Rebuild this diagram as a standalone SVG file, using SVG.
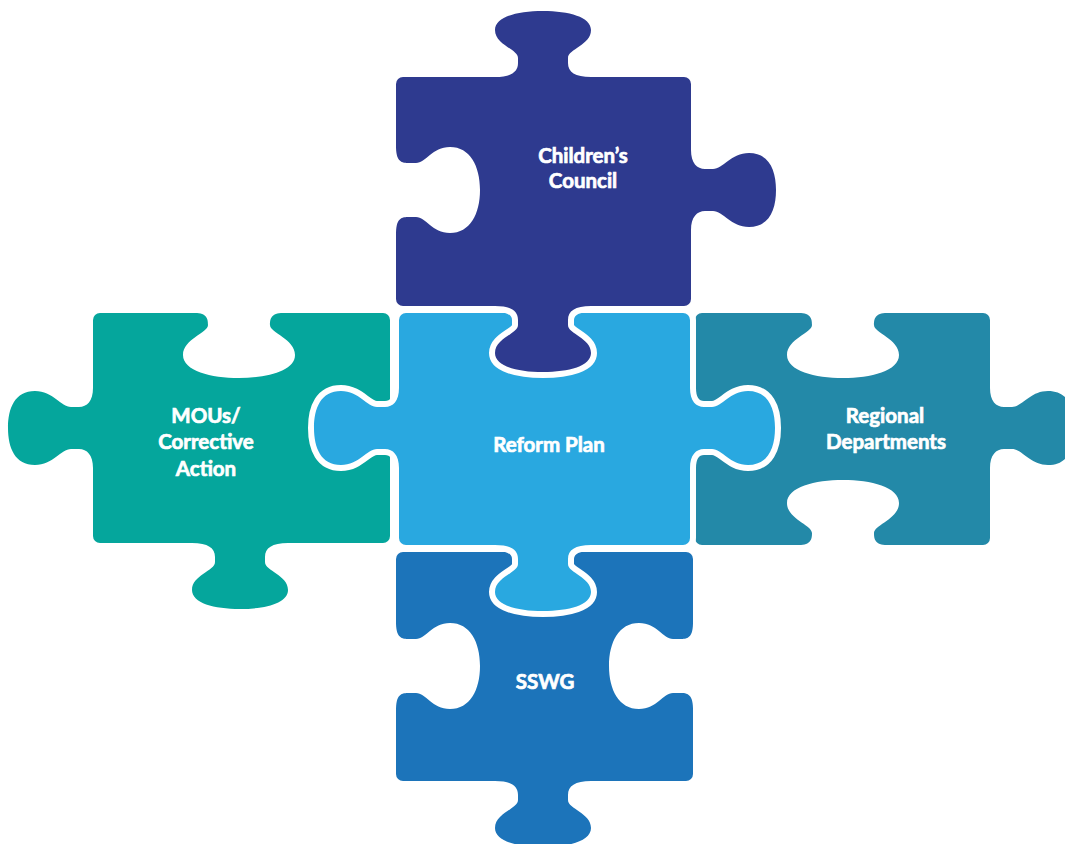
<svg xmlns="http://www.w3.org/2000/svg" xmlns:xlink="http://www.w3.org/1999/xlink" width="1065" height="844" viewBox="0 0 1065 844">
<style>
.label{font-family:Lato,"Liberation Sans",Arial,sans-serif;font-weight:700;font-size:20.5px;fill:#ffffff;stroke:#ffffff;stroke-width:0.7;text-anchor:middle}
.outline{fill:#ffffff;stroke:#ffffff;stroke-width:12;stroke-linejoin:round}
.hole{fill:#ffffff}
</style>
<defs>
<path id="tabA" d="M -48 3 L -48 0 C -32 0 -25 -5 -25 -14 L -25 -19 C -25 -28 -48 -32 -48 -47 C -48 -60 -26 -66 0 -66 C 26 -66 48 -60 48 -47 C 48 -32 25 -28 25 -19 L 25 -14 C 25 -5 32 0 48 0 L 48 3 Z"/>
<path id="tabB" d="M -40 3 L -40 0 C -27 0 -21 -6 -21 -14 L -21 -22 C -21 -32 -37 -40 -37 -58 C -37 -78 -20 -85 0 -85 C 20 -85 37 -78 37 -58 C 37 -40 21 -32 21 -22 L 21 -14 C 21 -6 27 0 40 0 L 40 3 Z"/>
<path id="blankA" d="M -44 4 L -44 0 C -32 0 -31 -6 -31 -12 C -31 -20 -56 -26 -56 -42 C -56 -58 -28 -65 0 -65 C 28 -65 56 -58 56 -42 C 56 -26 31 -20 31 -12 C 31 -6 32 0 44 0 L 44 4 Z"/>
<path id="blankB" d="M -44 4 L -44 0 C -30 0 -27 -4 -27 -12 L -27 -20 C -27 -30 -43 -36 -43 -54 C -43 -74 -24 -84 0 -84 C 24 -84 43 -74 43 -54 C 43 -36 27 -30 27 -20 L 27 -12 C 27 -4 30 0 44 0 L 44 4 Z"/>
<g id="reform-shape">
<rect x="399" y="313" width="291" height="232" rx="7"/>
<use href="#tabB" xlink:href="#tabB" transform="translate(399 428) rotate(-90)"/>
<use href="#tabB" xlink:href="#tabB" transform="translate(690 428) rotate(90)"/>
<use href="#tabA" xlink:href="#tabA" transform="translate(543 545) rotate(180)"/>
</g>
<g id="children-shape">
<rect x="396" y="77" width="295" height="229" rx="7"/>
<use href="#tabA" xlink:href="#tabA" transform="translate(543 77)"/>
<use href="#tabB" xlink:href="#tabB" transform="translate(691 190) rotate(90)"/>
<use href="#tabA" xlink:href="#tabA" transform="translate(543 306) rotate(180)"/>
</g>
</defs>

<g id="mous" fill="#05A69C">
<rect x="93" y="313" width="297" height="230" rx="7"/>
<use href="#tabB" xlink:href="#tabB" transform="translate(93 428) rotate(-90)"/>
<use href="#tabA" xlink:href="#tabA" transform="translate(240 543) rotate(180)"/>
<use href="#blankA" xlink:href="#blankA" class="hole" transform="translate(239 313) rotate(180)"/>
<text class="label" x="206" y="423">MOUs/</text>
<text class="label" x="206" y="449">Corrective</text>
<text class="label" x="206" y="476">Action</text>
</g>

<g id="regional-departments" fill="#2389A8">
<rect x="695" y="313" width="295" height="232" rx="7"/>
<use href="#tabB" xlink:href="#tabB" transform="translate(990 428) rotate(90)"/>
<use href="#blankA" xlink:href="#blankA" class="hole" transform="translate(843 313) rotate(180)"/>
<use href="#blankA" xlink:href="#blankA" class="hole" transform="translate(843 545)"/>
<text class="label" x="885" y="423">Regional</text>
<text class="label" x="886" y="449">Departments</text>
</g>

<g id="sswg" fill="#1C74BA">
<rect x="396" y="552" width="297" height="229" rx="7"/>
<use href="#tabA" xlink:href="#tabA" transform="translate(543 781) rotate(180)"/>
<use href="#blankB" xlink:href="#blankB" class="hole" transform="translate(396 666) rotate(90)"/>
<use href="#blankB" xlink:href="#blankB" class="hole" transform="translate(693 666) rotate(-90)"/>
<text class="label" x="545" y="689">SSWG</text>
</g>

<g id="reform-plan">
<use href="#reform-shape" xlink:href="#reform-shape" class="outline"/>
<use href="#reform-shape" xlink:href="#reform-shape" fill="#29A8E0"/>
<text class="label" x="549" y="452">Reform Plan</text>
</g>

<g id="childrens-council">
<use href="#children-shape" xlink:href="#children-shape" class="outline"/>
<use href="#children-shape" xlink:href="#children-shape" fill="#2E3A8F"/>
<use href="#blankB" xlink:href="#blankB" class="hole" transform="translate(396 190) rotate(90)"/>
<text class="label" x="583" y="163">Children’s</text>
<text class="label" x="583" y="188">Council</text>
</g>

<g id="connectors"/>
</svg>
